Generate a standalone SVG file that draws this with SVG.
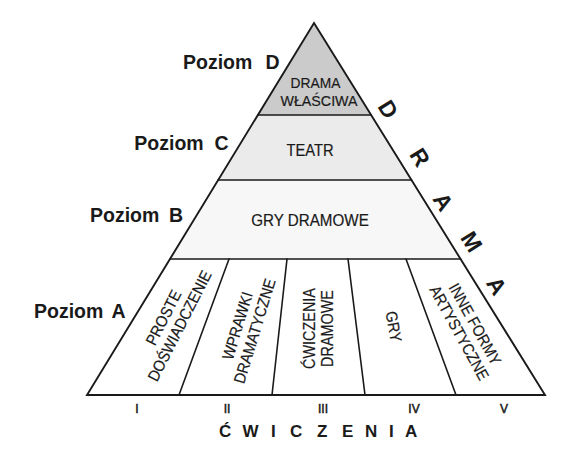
<svg xmlns="http://www.w3.org/2000/svg" width="576" height="453" viewBox="0 0 576 453">
<style>
.lvl{font-family:"Liberation Sans",Arial,sans-serif;font-weight:bold;font-size:19.5px;fill:#1a1a1a}
.t{font-family:"Liberation Sans",Arial,sans-serif;font-size:16px;fill:#1a1a1a;text-anchor:middle;stroke:#1a1a1a;stroke-width:0.2}
.big{font-family:"Liberation Sans",Arial,sans-serif;font-weight:bold;font-size:23px;fill:#1a1a1a;text-anchor:middle}
.num{font-family:"Liberation Sans",Arial,sans-serif;font-size:12px;fill:#1a1a1a;text-anchor:middle;stroke:#1a1a1a;stroke-width:0.5}
.ln{stroke:#1a1a1a;stroke-width:1.6;fill:none;stroke-linecap:round}
</style>
<rect width="576" height="453" fill="#fff"/>
<g id="tier-d">
<polygon points="314,23 257.9,115 371.1,115" fill="#cbcbcb"/>
<text class="t" style="font-size:15px" transform="translate(315.5,87.5) scale(0.92,1)">DRAMA</text>
<text class="t" style="font-size:15px" transform="translate(319,106) scale(0.95,1)">WŁAŚCIWA</text>
</g>
<g id="tier-c">
<polygon points="257.9,115 371.1,115 411.5,180 218.2,180" fill="#ebebeb"/>
<text class="t" transform="translate(310,156) scale(0.92,1)">TEATR</text>
</g>
<g id="tier-b">
<polygon points="218.2,180 411.5,180 460.6,259 170,259" fill="#f7f7f7"/>
<text class="t" transform="translate(310,225.5) scale(0.95,1)">GRY DRAMOWE</text>
</g>
<g id="tier-a">
<polygon points="170,259 460.6,259 545,395 87,395" fill="#fff"/>
<g id="col-1" transform="translate(172,322) rotate(-63) scale(0.9,1)">
<text class="t" x="0" y="-4">PROSTE</text>
<text class="t" x="0" y="14">DOŚWIADCZENIE</text>
</g>
<g id="col-2" transform="translate(246.5,328.5) rotate(-73) scale(0.9,1)">
<text class="t" x="0" y="-4">WPRAWKI</text>
<text class="t" x="0" y="14">DRAMATYCZNE</text>
</g>
<g id="col-3" transform="translate(319,328.5) rotate(-90) scale(0.9,1)">
<text class="t" x="0" y="-4">ĆWICZENIA</text>
<text class="t" x="0" y="14">DRAMOWE</text>
</g>
<g id="col-4" transform="translate(393.7,326.5) rotate(80) scale(0.9,1)">
<text class="t" x="0" y="5.5">GRY</text>
</g>
<g id="col-5" transform="translate(466.7,328.7) rotate(61) scale(0.9,1)">
<text class="t" x="0" y="-4">INNE FORMY</text>
<text class="t" x="0" y="14">ARTYSTYCZNE</text>
</g>
</g>
<g id="connectors">
<polygon class="ln" points="314,23 545,395 87,395" style="stroke-width:1.9;stroke-linejoin:miter"/>
<line class="ln" x1="257.9" y1="115" x2="371.1" y2="115"/>
<line class="ln" x1="218.2" y1="180" x2="411.5" y2="180"/>
<line class="ln" x1="170" y1="259" x2="460.6" y2="259"/>
<line class="ln" x1="229" y1="259" x2="179" y2="395"/>
<line class="ln" x1="287" y1="259" x2="272" y2="395"/>
<line class="ln" x1="348" y1="259" x2="365" y2="395"/>
<line class="ln" x1="406" y1="259" x2="456" y2="395"/>
</g>
<g id="levels">
<text class="lvl" x="183" y="68.5">Poziom<tspan x="265.5">D</tspan></text>
<text class="lvl" x="134.3" y="150">Poziom<tspan x="214.5">C</tspan></text>
<text class="lvl" x="90" y="221.7">Poziom<tspan x="169">B</tspan></text>
<text class="lvl" x="34" y="318.3">Poziom<tspan x="111.5">A</tspan></text>
</g>
<g id="drama">
<text class="big" transform="translate(388.3,109.3) rotate(58)" y="8">D</text>
<text class="big" transform="translate(420,157.3) rotate(58)" y="8">R</text>
<text class="big" transform="translate(443.3,201.7) rotate(58)" y="8">A</text>
<text class="big" transform="translate(471.7,241.7) rotate(58)" y="8">M</text>
<text class="big" transform="translate(496.7,285.7) rotate(58)" y="8">A</text>
</g>
<g id="numerals">
<text class="num" x="137" y="413">I</text>
<text class="num" x="227" y="413">II</text>
<text class="num" x="323" y="413">III</text>
<text class="num" x="414" y="413">IV</text>
<text class="num" x="504" y="413">V</text>
</g>
<g id="cwiczenia">
<text style="font-family:'Liberation Sans',Arial,sans-serif;font-weight:bold;font-size:17px;fill:#1a1a1a" y="437" x="219 242.5 271 290 317 342 365 389 405">ĆWICZENIA</text>
</g>
</svg>
